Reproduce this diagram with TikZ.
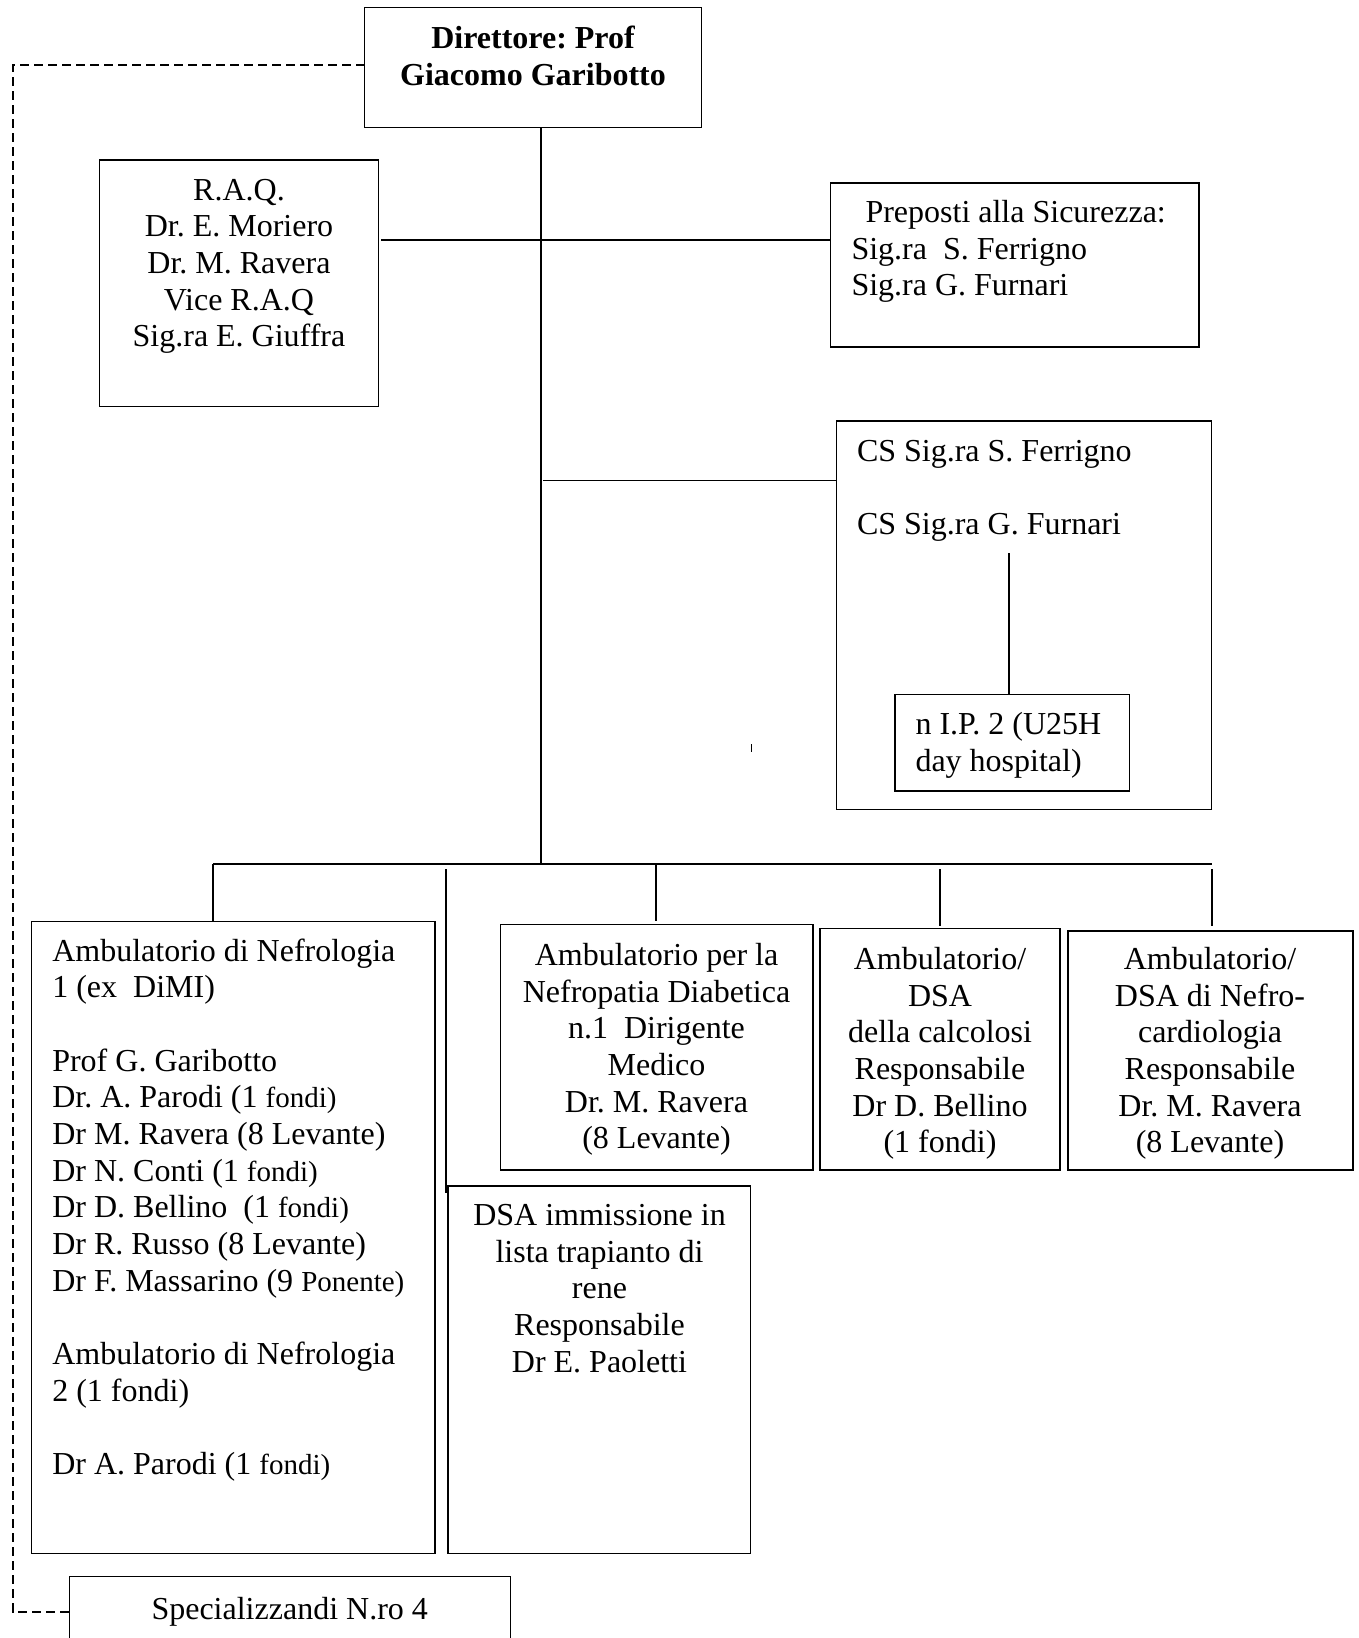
\documentclass[tikz,border=0pt]{standalone}
\usepackage{fontspec}
\setmainfont{Liberation Serif}
\frenchspacing
\newcommand\tpst{\rule{0pt}{24pt}}
\newcommand\smf[1]{{\fontsize{29}{36.7}\selectfont #1}}
\begin{document}
\frenchspacing
\begin{tikzpicture}[x=1pt,y=-1pt,
  box/.style={draw, line width=1.5pt, inner sep=0pt, outer sep=0pt, anchor=north west},
  txt/.style={inner sep=0pt, outer sep=0pt, font=\fontsize{32}{36.7}\selectfont},
  conn/.style={line width=1.5pt},
  dashconn/.style={line width=1.1pt, dash pattern=on 9pt off 5pt}]
\useasboundingbox (0,0) rectangle (1358,1638);
\fill[white] (0,0) rectangle (1358,1638);

% boxes
\node[box, minimum width=337pt, minimum height=120.1pt] (dir) at (364.6,7.3) {};
\node[box, minimum width=278.7pt, minimum height=246.7pt] (raq) at (99.6,159.8) {};
\node[box, minimum width=368.5pt, minimum height=164.2pt] (prep) at (830.5,182.8) {};
\node[box, minimum width=375pt, minimum height=388.6pt] (cs) at (836.5,421) {};
\node[box, minimum width=234.7pt, minimum height=96.3pt] (nip) at (894.8,694.5) {};
\node[box, minimum width=403.4pt, minimum height=632pt] (amb1) at (31.4,921.5) {};
\node[box, minimum width=312.5pt, minimum height=245.5pt] (diab) at (500.4,924.5) {};
\node[box, minimum width=240pt, minimum height=241.5pt] (calc) at (820,928.5) {};
\node[box, minimum width=285pt, minimum height=239pt] (cardio) at (1068,931) {};
\node[box, minimum width=302.3pt, minimum height=367.5pt] (dsa) at (448.2,1186) {};
\node[box, minimum width=441.1pt, minimum height=90pt] (spec) at (69.3,1576.7) {};

% texts
\node[txt, anchor=north, align=center, font=\bfseries\fontsize{32}{37.6}\selectfont] (tdir) at (533,24.3)
  {\tpst Direttore: Prof\\Giacomo Garibotto};
\node[txt, anchor=north, align=center] (traq) at (239,176)
  {\tpst R.A.Q.\\Dr. E. Moriero\\Dr. M. Ravera\\Vice R.A.Q\\Sig.ra E. Giuffra};
\node[txt, anchor=north west, align=left] (tprep) at (851.5,198.5)
  {\tpst\hspace{14pt}Preposti alla Sicurezza:\\Sig.ra\ \ S. Ferrigno\\Sig.ra G. Furnari};
\node[txt, anchor=north west, align=left] (tcs) at (857,437.5)
  {\tpst CS Sig.ra S. Ferrigno\\[36.7pt]CS Sig.ra G. Furnari};
\node[txt, anchor=north west, align=left] (tnip) at (915.5,710.5)
  {\tpst n I.P. 2 (U25H\\day hospital)};
\node[txt, anchor=north west, align=left] (tamb1) at (52.3,937)
  {\tpst Ambulatorio di Nefrologia\\1 (ex\ \ DiMI)\\[36.7pt]
   Prof G. Garibotto\\Dr. A. Parodi (1 \smf{fondi)}\\Dr M. Ravera (8 Levante)\\
   Dr N. Conti (1 \smf{fondi)}\\Dr D. Bellino\ \ (1 \smf{fondi)}\\Dr R. Russo (8 Levante)\\
   Dr F. Massarino (9 \smf{Ponente)}\\[36.7pt]
   Ambulatorio di Nefrologia\\2 (1 fondi)\\[36.7pt]
   Dr A. Parodi (1 \smf{fondi)}};
\node[txt, anchor=north, align=center] (tdiab) at (656.5,941.3)
  {\tpst Ambulatorio per la\\Nefropatia Diabetica\\n.1\ \ Dirigente\\Medico\\Dr. M. Ravera\\(8 Levante)};
\node[txt, anchor=north, align=center] (tcalc) at (940,945.3)
  {\tpst Ambulatorio/\\DSA\\della calcolosi\\Responsabile\\Dr D. Bellino\\(1 fondi)};
\node[txt, anchor=north, align=center] (tcardio) at (1210,945.3)
  {\tpst Ambulatorio/\\DSA di Nefro-\\cardiologia\\Responsabile\\Dr. M. Ravera\\(8 Levante)};
\node[txt, anchor=north, align=center] (tdsa) at (599.5,1201.4)
  {\tpst DSA immissione in\\lista trapianto di\\rene\\Responsabile\\Dr E. Paoletti};
\node[txt, anchor=north, align=center] (tspec) at (289.7,1595)
  {\tpst Specializzandi N.ro 4};

% helper coordinates
\coordinate (cx) at (541,864);
\coordinate (hq) at (541,240);
\coordinate (hc) at (543,480.5);
\coordinate (cin) at (1009,553);
\coordinate (busL) at (213,864);
\coordinate (busR) at (1212,864);
\coordinate (vl) at (446,869);
\coordinate (d2) at (656,864);
\coordinate (d3) at (940,869);
\coordinate (d4) at (1211.8,869);
\coordinate (dl) at (13,65);
\coordinate (dl2) at (13,1612);
\coordinate (tick) at (751,744);

% connectors
\draw[conn] (dir.south -| cx) -- (cx);
\draw[conn] ([xshift=3pt]raq.east |- hq) -- (prep.west |- hq);
\draw[conn] (hc) -- (cs.west |- hc);
\draw[conn] (cin) -- (nip.north -| cin);
\draw[conn] (busL) -- (busR);
\draw[conn] (busL) -- (busL |- amb1.north);
\draw[conn] (vl) -- ([yshift=-7pt]vl |- dsa.north);
\draw[conn] (d2) -- ([yshift=4pt]d2 |- diab.north);
\draw[conn] (d3) -- ([yshift=3pt]d3 |- calc.north);
\draw[conn] (d4) -- ([yshift=5pt]d4 |- cardio.north);
\draw[line width=1pt] (tick) -- ++(0,8);
\draw[dashconn] (dir.west |- dl) -- (dl) -- (dl2) -- (spec.west |- dl2);
\end{tikzpicture}
\end{document}
